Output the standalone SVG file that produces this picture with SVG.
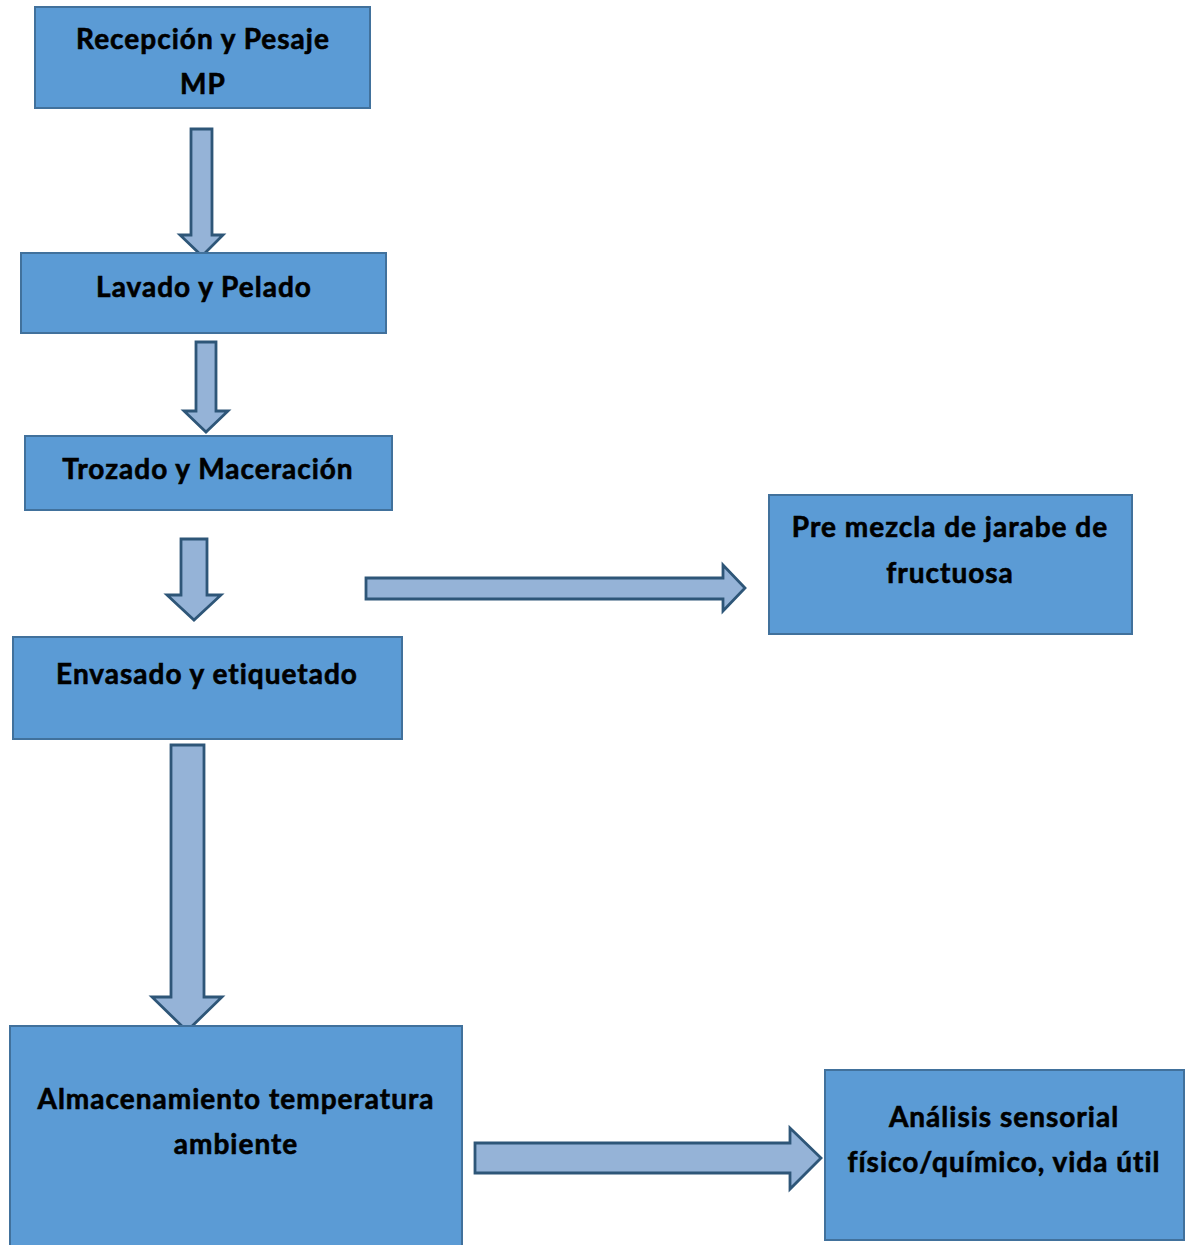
<svg xmlns="http://www.w3.org/2000/svg" width="1191" height="1245" viewBox="0 0 1191 1245">
  <style>
    .box { fill: #5B9BD5; stroke: #41719C; stroke-width: 2; }
    .arrow { fill: #95B3D7; stroke: #2E5678; stroke-width: 2.8; stroke-linejoin: miter; }
    .label { font-family: Lato, "Open Sans", "Liberation Sans", sans-serif; font-weight: bold; font-size: 28px; letter-spacing: 1px; fill: #000; stroke: #000; stroke-width: 0.6; text-anchor: middle; }
  </style>
  <rect width="1191" height="1245" fill="#ffffff"/>

  <!-- connectors: block arrows between process steps -->
  <g id="connectors">
    <polygon class="arrow" points="191,129 212,129 212,235 223,235 202,256 180,235 191,235"/>
    <polygon class="arrow" points="196,342 216,342 216,411 228,411 206,432 184,411 196,411"/>
    <polygon class="arrow" points="181,539 207,539 207,595 221,595 194,620 167,595 181,595"/>
    <polygon class="arrow" points="171,745 204,745 204,997 222,997 187,1031 152,997 171,997"/>
    <polygon class="arrow" points="366,578 723,578 723,565 745,588 723,611 723,599 366,599"/>
    <polygon class="arrow" points="475,1143 790,1143 790,1128 821,1158 790,1189 790,1173 475,1173"/>
  </g>

  <g id="recepcion">
    <rect class="box" x="35" y="7" width="335" height="101"/>
    <text class="label" x="203" y="49">Recepción y Pesaje</text>
    <text class="label" x="203" y="94">MP</text>
  </g>

  <g id="lavado">
    <rect class="box" x="21" y="253" width="365" height="80"/>
    <text class="label" x="204" y="297">Lavado y Pelado</text>
  </g>

  <g id="trozado">
    <rect class="box" x="25" y="436" width="367" height="74"/>
    <text class="label" x="208" y="479">Trozado y Maceración</text>
  </g>

  <g id="envasado">
    <rect class="box" x="13" y="637" width="389" height="102"/>
    <text class="label" x="207" y="684">Envasado y etiquetado</text>
  </g>

  <g id="premezcla">
    <rect class="box" x="769" y="495" width="363" height="139"/>
    <text class="label" x="950" y="537">Pre mezcla de jarabe de</text>
    <text class="label" x="950" y="583">fructuosa</text>
  </g>

  <g id="almacenamiento">
    <rect class="box" x="10" y="1026" width="452" height="230"/>
    <text class="label" x="236" y="1109">Almacenamiento temperatura</text>
    <text class="label" x="236" y="1154">ambiente</text>
  </g>

  <g id="analisis">
    <rect class="box" x="825" y="1070" width="359" height="170"/>
    <text class="label" x="1004" y="1127">Análisis sensorial</text>
    <text class="label" x="1004" y="1172">físico/químico, vida útil</text>
  </g>
</svg>
